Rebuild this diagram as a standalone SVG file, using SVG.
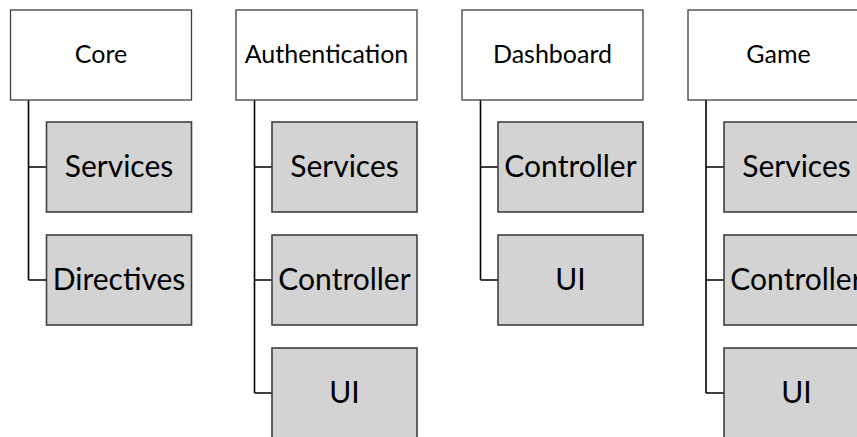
<svg xmlns="http://www.w3.org/2000/svg" width="857" height="437" viewBox="0 0 857 437">
  <style>
    .head { fill: #ffffff; stroke: #404040; stroke-width: 1.3; }
    .item { fill: #d3d3d3; stroke: #404040; stroke-width: 1.6; }
    .htxt { font-family: Lato, "Open Sans", sans-serif; font-size: 25px; fill: #000; text-anchor: middle; }
    .itxt { font-family: Lato, "Open Sans", sans-serif; font-size: 30px; fill: #000; text-anchor: middle; }
    .link { fill: none; stroke: #000; stroke-width: 1.6; }
  </style>
  <rect width="857" height="437" fill="#ffffff"/>

  <!-- tree connectors -->
  <g id="connectors">
    <path class="link" d="M28.5 100 V280 M28.5 167 H46.5 M28.5 280 H46.5"/>
    <path class="link" d="M254.5 100 V393 M254.5 167 H272 M254.5 280 H272 M254.5 393 H272"/>
    <path class="link" d="M480.5 100 V280 M480.5 167 H498 M480.5 280 H498"/>
    <path class="link" d="M706 100 V393 M706 167 H724 M706 280 H724 M706 393 H724"/>
  </g>

  <!-- Core module -->
  <g id="core">
    <rect class="head" x="10.5" y="10" width="181" height="90"/>
    <text class="htxt" x="101" y="63">Core</text>
  </g>
  <g id="core-services">
    <rect class="item" x="46.5" y="122" width="145" height="90"/>
    <text class="itxt" x="119" y="177">Services</text>
  </g>
  <g id="core-directives">
    <rect class="item" x="46.5" y="235" width="145" height="90"/>
    <text class="itxt" x="119" y="290">Directives</text>
  </g>

  <!-- Authentication module -->
  <g id="authentication">
    <rect class="head" x="236" y="10" width="181" height="90"/>
    <text class="htxt" x="326.5" y="63">Authentication</text>
  </g>
  <g id="auth-services">
    <rect class="item" x="272" y="122" width="145" height="90"/>
    <text class="itxt" x="344.5" y="177">Services</text>
  </g>
  <g id="auth-controller">
    <rect class="item" x="272" y="235" width="145" height="90"/>
    <text class="itxt" x="344.5" y="290">Controller</text>
  </g>
  <g id="auth-ui">
    <rect class="item" x="272" y="348" width="145" height="90"/>
    <text class="itxt" x="344.5" y="403">UI</text>
  </g>

  <!-- Dashboard module -->
  <g id="dashboard">
    <rect class="head" x="462" y="10" width="181" height="90"/>
    <text class="htxt" x="552.5" y="63">Dashboard</text>
  </g>
  <g id="dash-controller">
    <rect class="item" x="498" y="122" width="145" height="90"/>
    <text class="itxt" x="570.5" y="177">Controller</text>
  </g>
  <g id="dash-ui">
    <rect class="item" x="498" y="235" width="145" height="90"/>
    <text class="itxt" x="570.5" y="290">UI</text>
  </g>

  <!-- Game module -->
  <g id="game">
    <rect class="head" x="688" y="10" width="181" height="90"/>
    <text class="htxt" x="778.5" y="63">Game</text>
  </g>
  <g id="game-services">
    <rect class="item" x="724" y="122" width="145" height="90"/>
    <text class="itxt" x="796.5" y="177">Services</text>
  </g>
  <g id="game-controller">
    <rect class="item" x="724" y="235" width="145" height="90"/>
    <text class="itxt" x="796.5" y="290">Controller</text>
  </g>
  <g id="game-ui">
    <rect class="item" x="724" y="348" width="145" height="90"/>
    <text class="itxt" x="796.5" y="403">UI</text>
  </g>
</svg>
